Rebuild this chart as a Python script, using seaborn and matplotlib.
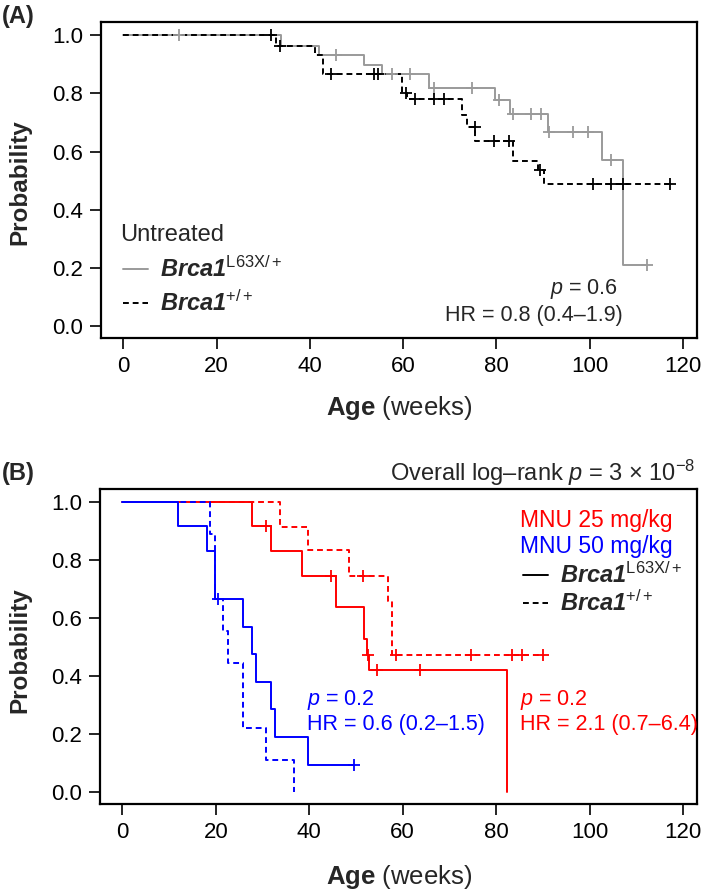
import matplotlib
matplotlib.use("Agg")
import matplotlib.pyplot as plt
import numpy as np
import seaborn as sns
from matplotlib.lines import Line2D

# ---- data (weeks, survival probability) ----
# (A) untreated
a_mut_times = [33.8, 42.0, 51.7, 55.5, 65.5, 79.6, 82.8, 91.0, 102.6, 107.2]
a_mut_surv = [0.964, 0.93, 0.898, 0.865, 0.82, 0.777, 0.73, 0.668, 0.572, 0.21]
a_mut_cens = [12.0, 45.5, 57.7, 61.5, 66.6, 74.7, 80.6, 83.6, 87.4, 89.6, 91.3, 96.4, 99.6, 104.5, 112.3]

a_wt_times = [32.8, 41.0, 42.8, 59.8, 60.9, 72.6, 73.6, 75.5, 83.6, 89.0, 90.2]
a_wt_surv = [0.964, 0.93, 0.865, 0.80, 0.78, 0.727, 0.684, 0.635, 0.569, 0.536, 0.49]
a_wt_cens = [31.7, 33.5, 44.5, 53.8, 54.5, 60.6, 62.6, 66.6, 68.7, 75.3, 79.4, 82.6, 89.4,
             100.6, 104.5, 107.2, 117.2]

# (B) MNU 50 mg/kg
b50_mut_times = [12.0, 18.0, 19.9, 25.9, 27.8, 28.7, 31.9, 32.7, 39.8]
b50_mut_surv = [0.917, 0.833, 0.667, 0.571, 0.476, 0.381, 0.286, 0.19, 0.095]
b50_mut_cens = [20.5, 49.6]

b50_wt_times = [18.8, 19.9, 21.6, 22.7, 25.9, 30.8, 36.8]
b50_wt_surv = [0.889, 0.667, 0.556, 0.444, 0.222, 0.111, 0.0]
b50_wt_cens = []

# (B) MNU 25 mg/kg
b25_mut_times = [27.8, 31.7, 38.5, 45.8, 51.8, 52.3, 52.8, 82.4]
b25_mut_surv = [0.917, 0.833, 0.745, 0.64, 0.53, 0.474, 0.423, 0.0]
b25_mut_cens = [30.8, 44.7, 52.5, 54.5, 63.7]

b25_wt_times = [33.8, 39.8, 48.6, 56.9, 57.8]
b25_wt_surv = [0.915, 0.836, 0.747, 0.659, 0.474]
b25_wt_cens = [51.6, 58.5, 74.7, 83.4, 85.6, 90.1]

x_ticks = [0, 20, 40, 60, 80, 100, 120]
y_ticks = [0.0, 0.2, 0.4, 0.6, 0.8, 1.0]

sns.set_theme(style="ticks")
plt.rcParams["font.family"] = ["Liberation Sans", "DejaVu Sans"]
plt.rcParams["mathtext.fontset"] = "custom"
plt.rcParams["mathtext.rm"] = "Liberation Sans"
plt.rcParams["mathtext.it"] = "Liberation Sans:italic"
plt.rcParams["mathtext.bf"] = "Liberation Sans:bold"
plt.rcParams["mathtext.bfit"] = "Liberation Sans:italic:bold"
plt.rcParams["axes.edgecolor"] = "black"
plt.rcParams["xtick.color"] = "black"
plt.rcParams["ytick.color"] = "black"

GRAY = "#9a9a9a"
W, H = 709, 896


def km_curve(ax, times, surv, cens, color, dashed=False):
    end = max(times + cens)
    t = [0.0] + times
    s = [1.0] + surv
    if end > times[-1]:
        t.append(end)
        s.append(surv[-1])
    sns.lineplot(x=t, y=s, drawstyle="steps-post", estimator=None, sort=False,
                 color=color, linewidth=1.4, ax=ax)
    if dashed:
        ax.lines[-1].set_dashes([3, 2])
    if cens:
        # censor marks sit on the step function
        cy = [s[np.searchsorted(t, c, side="right") - 1] for c in cens]
        sns.scatterplot(x=cens, y=cy, marker="+", s=70, color=color,
                        linewidth=1.3, ax=ax, zorder=3)


def style_axes(ax):
    ax.set_xlim(-4.8, 123)
    ax.set_ylim(-0.04, 1.045)
    ax.set_xticks(x_ticks)
    ax.set_yticks(y_ticks)
    ax.set_yticklabels([f"{v:.1f}" for v in y_ticks])
    ax.tick_params(labelsize=16, length=8, width=1.2, pad=5)
    for sp in ax.spines.values():
        sp.set_visible(True)
        sp.set_linewidth(1.6)
    ax.set_xlabel("")
    ax.set_ylabel("")


def ftext(x, y, s, **kw):
    fig.text(x / W, 1 - y / H, s, **kw)


def fline(x0, x1, y, color, dashed=False):
    ln = Line2D([x0 / W, x1 / W], [1 - y / H, 1 - y / H], color=color, linewidth=1.4,
                transform=fig.transFigure)
    if dashed:
        ln.set_dashes([3, 2])
    fig.add_artist(ln)


fig = plt.figure(figsize=(7.09, 8.96), dpi=100)
axA = fig.add_axes([101 / W, 1 - 338 / H, (697 - 101) / W, (338 - 22) / H])
axB = fig.add_axes([100 / W, 1 - 804 / H, (697 - 100) / W, (804 - 489) / H])

# ---- panel A ----
km_curve(axA, a_mut_times, a_mut_surv, a_mut_cens, GRAY)
km_curve(axA, a_wt_times, a_wt_surv, a_wt_cens, "black", dashed=True)
style_axes(axA)

ftext(2, 17, "(A)", fontsize=17, fontweight="bold", va="center")
ftext(20, 182, "Probability", fontsize=17.5, fontweight="bold", rotation=90,
      ha="center", va="center")
ftext(399, 408, r"$\mathbf{Age}$ (weeks)", fontsize=18.5, ha="center", va="center")
ftext(120, 235, "Untreated", fontsize=17, va="center")
fline(123, 148, 269, GRAY)
ftext(160, 269, r"$\mathbfit{Brca1}^{\mathrm{L63X/+}}$", fontsize=17, va="center")
fline(123, 148, 303, "black", dashed=True)
ftext(160, 303, r"$\mathbfit{Brca1}^{\mathrm{+/+}}$", fontsize=17, va="center")
ftext(618, 289, r"$\mathit{p}$ = 0.6", fontsize=15.5, ha="right", va="center")
ftext(623, 316, "HR = 0.8 (0.4–1.9)", fontsize=15.5, ha="right", va="center")

# ---- panel B ----
km_curve(axB, b25_mut_times, b25_mut_surv, b25_mut_cens, "red")
km_curve(axB, b25_wt_times, b25_wt_surv, b25_wt_cens, "red", dashed=True)
km_curve(axB, b50_mut_times, b50_mut_surv, b50_mut_cens, "blue")
km_curve(axB, b50_wt_times, b50_wt_surv, b50_wt_cens, "blue", dashed=True)
style_axes(axB)

ftext(2, 473, "(B)", fontsize=17, fontweight="bold", va="center")
ftext(695, 473, r"Overall log–rank $\mathit{p}$ = 3 × 10$^{\mathrm{−8}}$", fontsize=17,
      ha="right", va="center")
ftext(20, 650, "Probability", fontsize=17.5, fontweight="bold", rotation=90,
      ha="center", va="center")
ftext(399, 877, r"$\mathbf{Age}$ (weeks)", fontsize=18.5, ha="center", va="center")
ftext(520, 520, "MNU 25 mg/kg", fontsize=16.5, color="red", va="center")
ftext(520, 547, "MNU 50 mg/kg", fontsize=16.5, color="blue", va="center")
fline(523, 548, 575, "black")
ftext(560, 575, r"$\mathbfit{Brca1}^{\mathrm{L63X/+}}$", fontsize=17, va="center")
fline(523, 548, 603, "black", dashed=True)
ftext(560, 603, r"$\mathbfit{Brca1}^{\mathrm{+/+}}$", fontsize=17, va="center")
ftext(307, 700, r"$\mathit{p}$ = 0.2", fontsize=15.5, color="blue", va="center")
ftext(307, 724, "HR = 0.6 (0.2–1.5)", fontsize=15.5, color="blue", va="center")
ftext(520, 700, r"$\mathit{p}$ = 0.2", fontsize=15.5, color="red", va="center")
ftext(520, 724, "HR = 2.1 (0.7–6.4)", fontsize=15.5, color="red", va="center")

fig.savefig("out.png", dpi=100)
